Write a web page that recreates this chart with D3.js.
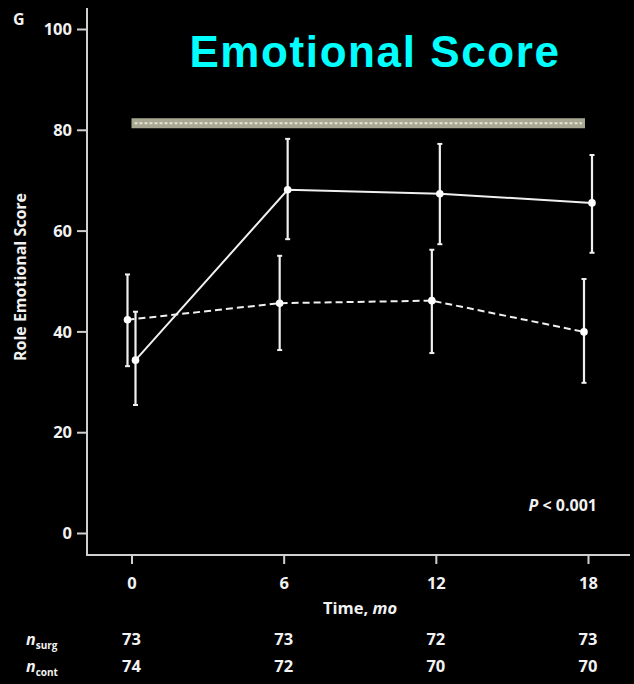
<!DOCTYPE html>
<html>
<head>
<meta charset="utf-8">
<script src="https://cdn.jsdelivr.net/npm/d3@7"></script>
<style>
  html, body { margin: 0; padding: 0; background: #000; }
  svg { display: block; }
  text { fill: #f2f2f2; font-family: "Open Sans", "DejaVu Sans", sans-serif; font-weight: 700; }
</style>
</head>
<body>
<svg id="chart" width="634" height="684"></svg>
<script>
// Time points (months) and group sizes
const months = [0, 6, 12, 18];
const nSurgical = [73, 73, 72, 73];
const nControl = [74, 72, 70, 70];

// Role emotional score: means and error-bar limits
const surgicalMean = [34.3, 68.1, 67.3, 65.5];
const surgicalLow = [25.4, 58.3, 57.3, 55.6];
const surgicalHigh = [43.9, 78.2, 77.2, 75.0];

const controlMean = [42.3, 45.6, 46.1, 39.9];
const controlLow = [33.1, 36.3, 35.7, 29.8];
const controlHigh = [51.3, 55.0, 56.2, 50.4];

// Population norm reference band
const normValue = 81.3;

const yTicks = [0, 20, 40, 60, 80, 100];

const svg = d3.select("#chart");
svg.append("rect").attr("width", 634).attr("height", 684).attr("fill", "#000");

const x = d3.scaleLinear().domain([0, 18]).range([131.5, 588]);
const y = d3.scaleLinear().domain([0, 100]).range([533, 29]);

const axisX = 87, axisY = 555;
const axisColor = "#d0d0d0";

// Title
svg.append("text")
  .attr("x", 375).attr("y", 67)
  .attr("text-anchor", "middle")
  .style("font-family", "'Liberation Sans', Arial, sans-serif")
  .style("font-size", "44px")
  .style("letter-spacing", "1.6px")
  .style("fill", "#00ffff")
  .text("Emotional Score");

// Panel letter
svg.append("text").attr("x", 13).attr("y", 25)
  .style("font-size", "16px").text("G");

// Axis frame
svg.append("path")
  .attr("d", `M${axisX},8 V${axisY} H630`)
  .attr("fill", "none").attr("stroke", axisColor).attr("stroke-width", 2);

// Y axis
const yAxis = svg.append("g").attr("transform", `translate(${axisX},0)`)
  .call(d3.axisLeft(y).tickValues(yTicks).tickSize(10).tickPadding(5));
yAxis.select(".domain").remove();
yAxis.selectAll(".tick line").attr("stroke", axisColor).attr("stroke-width", 2);
yAxis.selectAll(".tick text").style("font-size", "16.5px").style("fill", "#f2f2f2")
  .attr("dy", "0.35em");

// X axis
const xAxis = svg.append("g").attr("transform", `translate(0,${axisY})`)
  .call(d3.axisBottom(x).tickValues(months).tickSize(9).tickPadding(13));
xAxis.select(".domain").remove();
xAxis.selectAll(".tick line").attr("stroke", axisColor).attr("stroke-width", 2);
xAxis.selectAll(".tick text").style("font-size", "16.5px").style("fill", "#f2f2f2");

// Axis titles
svg.append("text")
  .attr("transform", `translate(26,277) rotate(-90)`)
  .attr("text-anchor", "middle")
  .style("font-size", "16px")
  .text("Role Emotional Score");

const xt = svg.append("text").attr("x", 360).attr("y", 614)
  .attr("text-anchor", "middle").style("font-size", "16.5px");
xt.append("tspan").text("Time, ");
xt.append("tspan").style("font-style", "italic").text("mo");

// Norm band
const bandH = 10;
svg.append("rect")
  .attr("x", x(0)).attr("width", x(18) - 3 - x(0))
  .attr("y", y(normValue) - bandH / 2).attr("height", bandH)
  .attr("fill", "#a8a892");
svg.append("line")
  .attr("x1", x(0) + 3).attr("x2", x(18) - 6)
  .attr("y1", y(normValue)).attr("y2", y(normValue))
  .attr("stroke", "#e4e4d4").attr("stroke-width", 2)
  .attr("stroke-dasharray", "3,2");

// Series
function drawSeries(mean, lo, hi, dx, dash) {
  const pts = months.map((m, i) => ({ m, v: mean[i], lo: lo[i], hi: hi[i] }));
  const g = svg.append("g");
  const line = d3.line().x(d => x(d.m) + dx).y(d => y(d.v));
  g.append("path").datum(pts)
    .attr("d", line).attr("fill", "none")
    .attr("stroke", "#f0f0f0").attr("stroke-width", 2)
    .attr("stroke-dasharray", dash);
  const eb = g.selectAll(".eb").data(pts).join("g");
  eb.append("line")
    .attr("x1", d => x(d.m) + dx).attr("x2", d => x(d.m) + dx)
    .attr("y1", d => y(d.lo)).attr("y2", d => y(d.hi))
    .attr("stroke", "#f0f0f0").attr("stroke-width", 2.2);
  [d => y(d.lo), d => y(d.hi)].forEach(fy => {
    eb.append("line")
      .attr("x1", d => x(d.m) + dx - 2.5).attr("x2", d => x(d.m) + dx + 2.5)
      .attr("y1", fy).attr("y2", fy)
      .attr("stroke", "#f0f0f0").attr("stroke-width", 2);
  });
  g.selectAll("circle").data(pts).join("circle")
    .attr("cx", d => x(d.m) + dx).attr("cy", d => y(d.v))
    .attr("r", 3.8).attr("fill", "#fff");
}

drawSeries(controlMean, controlLow, controlHigh, -4, "7,4");
drawSeries(surgicalMean, surgicalLow, surgicalHigh, 4, null);

// P value
const pv = svg.append("text").attr("x", 597).attr("y", 511)
  .attr("text-anchor", "end").style("font-size", "16px");
pv.append("tspan").style("font-style", "italic").text("P");
pv.append("tspan").text(" < 0.001");

// Number at risk rows
function nRow(label, values, yPos) {
  const t = svg.append("text").attr("x", 26).attr("y", yPos).style("font-size", "16px");
  t.append("tspan").style("font-style", "italic").text("n");
  t.append("tspan").attr("dy", 4).style("font-size", "10px").text(label);
  svg.selectAll(null).data(values).join("text")
    .attr("x", (d, i) => x(months[i])).attr("y", yPos)
    .attr("text-anchor", "middle").style("font-size", "16.5px")
    .text(d => d);
}
nRow("surg", nSurgical, 645);
nRow("cont", nControl, 672);
</script>
</body>
</html>
